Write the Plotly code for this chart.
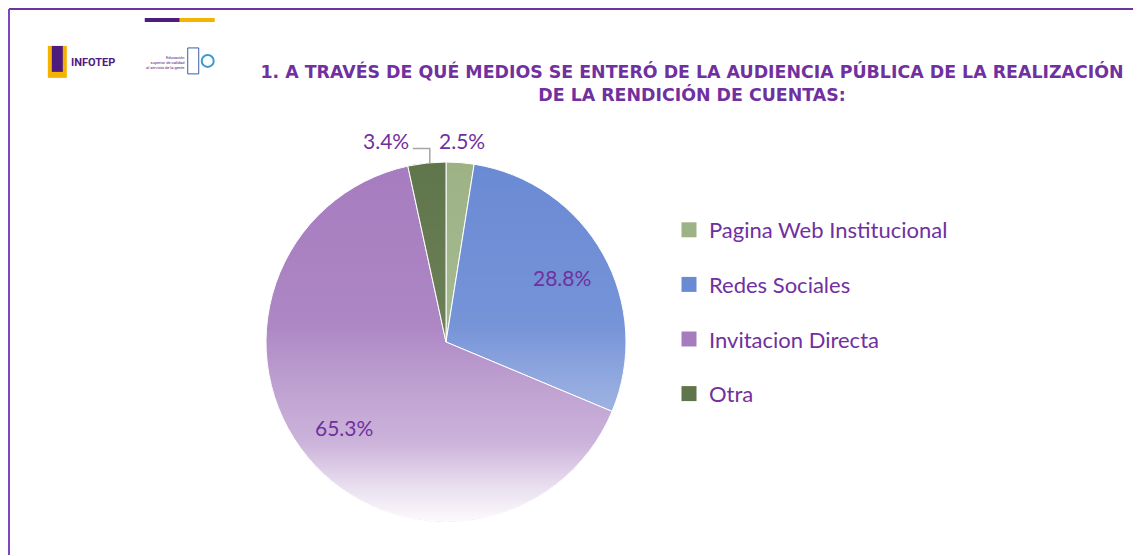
import base64
import math
import plotly.graph_objects as go

# data
labels = ["Pagina Web Institucional", "Redes Sociales", "Invitacion Directa", "Otra"]
values = [2.5, 28.8, 65.3, 3.4]
colors = ["#9DB386", "#6A8AD4", "#A67CBF", "#5F754A"]
label_pos = ["outside", "inside", "inside", "outside"]

PURPLE = "#7030A0"
OFF = 8                      # page body margin
W, H = 1141 - OFF, 556 - OFF


def px(x):
    return (x - OFF) / W


def py(y):
    return 1 - (y - OFF) / H


# pie box in reference pixels
cx, cy, r = 446, 342, 180
dom_x = [px(cx - r), px(cx + r)]
dom_y = [py(cy + r), py(cy - r)]

fig = go.Figure()
fig.add_trace(go.Pie(
    labels=labels, values=values, sort=False, direction="clockwise", rotation=0,
    marker=dict(colors=colors, line=dict(color="white", width=1)),
    textinfo="none", domain=dict(x=dom_x, y=dom_y), showlegend=False,
))

# legend entries (one group each so the gap can be set)
for lab, col in zip(labels, colors):
    fig.add_trace(go.Scatter(
        x=[None], y=[None], mode="markers", name=lab, legendgroup=lab,
        marker=dict(symbol="square", size=15, color=col),
    ))

# white fade over the pie (excel-like gradient fill)
svg = ('<svg xmlns="http://www.w3.org/2000/svg" width="200" height="200">'
       '<defs><linearGradient id="g" x1="0" y1="0" x2="0" y2="1">'
       '<stop offset="0" stop-color="#fff" stop-opacity="0"/>'
       '<stop offset="0.45" stop-color="#fff" stop-opacity="0.08"/>'
       '<stop offset="0.62" stop-color="#fff" stop-opacity="0.28"/>'
       '<stop offset="0.78" stop-color="#fff" stop-opacity="0.42"/>'
       '<stop offset="0.9" stop-color="#fff" stop-opacity="0.75"/>'
       '<stop offset="1" stop-color="#fff" stop-opacity="0.97"/>'
       '</linearGradient></defs>'
       '<circle cx="100" cy="100" r="100" fill="url(#g)"/></svg>')
src = "data:image/svg+xml;base64," + base64.b64encode(svg.encode()).decode()
fig.add_layout_image(dict(
    source=src, xref="paper", yref="paper", x=dom_x[0], y=dom_y[1],
    sizex=dom_x[1] - dom_x[0], sizey=dom_y[1] - dom_y[0],
    sizing="stretch", xanchor="left", yanchor="top", layer="above",
))

# percentage labels placed from each slice's mid angle
label_font = dict(family="Lato", size=21, color=PURPLE)
annotations = []
shapes = []
total = sum(values)
cum = 0
for v, p in zip(values, label_pos):
    mid = 2 * math.pi * (cum + v / 2) / total
    cum += v
    s, c = math.sin(mid), math.cos(mid)
    lab = dict(text=f"{v:.1f}%", xref="paper", yref="paper", showarrow=False,
               font=label_font, xanchor="center", yanchor="middle")
    if p == "inside":
        d = 0.74 * r
        annotations.append(dict(lab, x=px(cx + d * s), y=py(cy - d * c)))
        continue
    ex, ey = cx + r * s, cy - r * c          # slice edge
    ly = cy - 1.12 * r
    if s >= 0:
        annotations.append(dict(lab, x=px(cx + 1.12 * r * s), y=py(ly)))
    else:
        annotations.append(dict(lab, x=px(ex - 16), y=py(ly), xanchor="right"))
        shapes.append(dict(
            type="path", xref="paper", yref="paper",
            path=f"M {px(ex + 3)},{py(ey)} L {px(ex + 3)},{py(ly + 8)} L {px(ex - 14)},{py(ly + 8)}",
            line=dict(color="#A6A6A6", width=1.5),
        ))

annotations += [
    dict(text="<b>INFOTEP</b>", x=px(69), y=py(62), xref="paper", yref="paper",
         xanchor="left", yanchor="middle", showarrow=False,
         font=dict(family="Roboto", size=11, color="#4E1B7E")),
    dict(text="Educación<br>superior de calidad<br>al servicio de la gente", x=px(186), y=py(62),
         xref="paper", yref="paper", xanchor="right", yanchor="middle", showarrow=False, align="right",
         font=dict(family="Roboto", size=4, color="#4E1B7E")),
]

shapes += [
    # frame
    dict(type="line", x0=0.001, x1=1, y0=py(9), y1=py(9), line=dict(color="#6A35A0", width=2)),
    dict(type="line", x0=0.001, x1=0.001, y0=py(9), y1=0, line=dict(color="#7E45BE", width=2)),
    # top bar
    dict(type="rect", x0=px(145), x1=px(180), y0=py(22), y1=py(18), line_width=0, fillcolor="#4E1B7E"),
    dict(type="rect", x0=px(180), x1=px(215), y0=py(22), y1=py(18), line_width=0, fillcolor="#F6B200"),
    # logo hints
    dict(type="rect", x0=px(48), x1=px(67), y0=py(78), y1=py(46), line_width=0, fillcolor="#F6B200"),
    dict(type="rect", x0=px(52), x1=px(63), y0=py(72), y1=py(46), line_width=0, fillcolor="#4E1B7E"),
    dict(type="rect", x0=px(188), x1=px(199), y0=py(74), y1=py(48), line=dict(color="#3A5FA0", width=1)),
    dict(type="circle", x0=px(202), x1=px(214), y0=py(67), y1=py(55), line=dict(color="#3A9AD0", width=2)),
]

fig.update_layout(
    width=W, height=H, margin=dict(l=0, r=0, t=0, b=0),
    paper_bgcolor="white", plot_bgcolor="white",
    xaxis=dict(visible=False), yaxis=dict(visible=False),
    shapes=shapes, annotations=annotations,
    title=dict(
        text="1. A TRAVÉS DE QUÉ MEDIOS SE ENTERÓ DE LA AUDIENCIA PÚBLICA DE LA REALIZACIÓN<br>DE LA RENDICIÓN DE CUENTAS:",
        x=px(692), xanchor="center", y=py(78), yanchor="top",
        font=dict(family="DejaVu Sans", size=17.4, color=PURPLE, weight="bold"),
    ),
    legend=dict(
        x=px(669), xanchor="left", y=py(209), yanchor="top",
        font=dict(family="Lato", size=22, color=PURPLE),
        tracegroupgap=23, itemwidth=30, bgcolor="rgba(0,0,0,0)",
    ),
)

fig.write_html("out.html")
